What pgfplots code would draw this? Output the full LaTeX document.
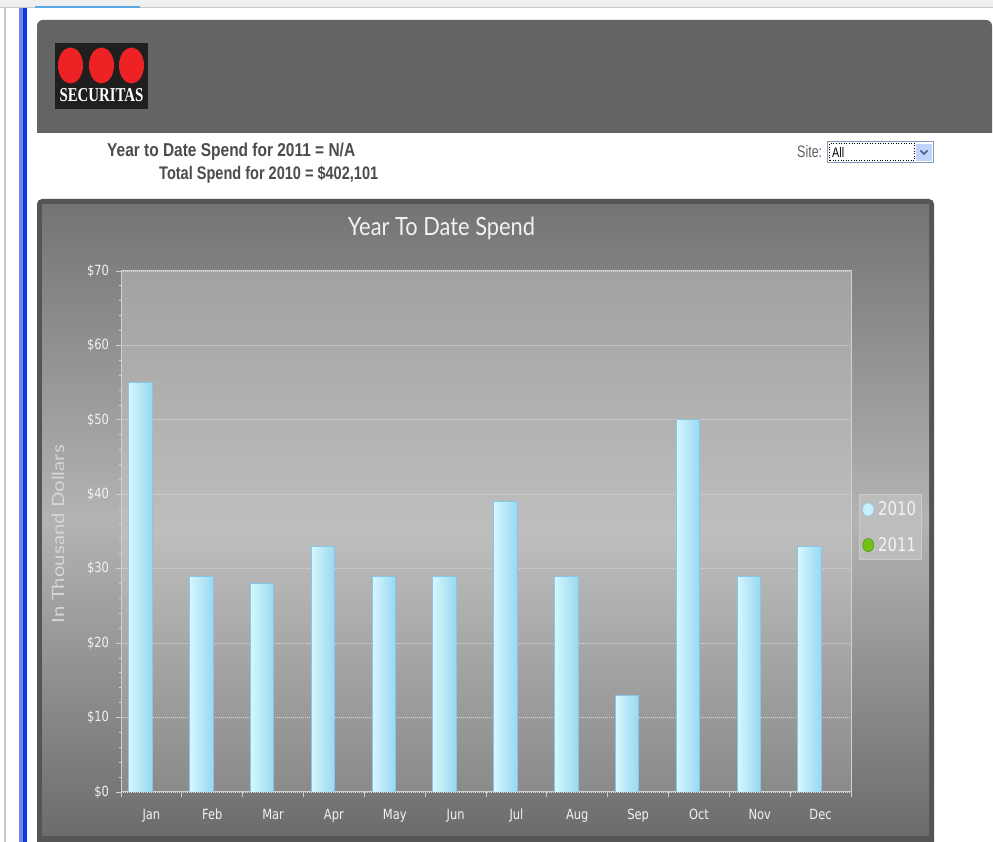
\documentclass[border=0pt]{standalone}
\usepackage{pgfplots}
\pgfplotsset{compat=1.18}
\usepackage{graphicx}
\usepackage{fontspec}
\setmainfont{Liberation Sans}
\newfontfamily\tickfont{DejaVu Sans}
\newfontfamily\titlefont{Lato}
\newfontfamily\seriffont{Liberation Serif}
\definecolor{hdr}{HTML}{646464}
\definecolor{pborder}{HTML}{555555}
\definecolor{ptop}{HTML}{747474}
\definecolor{pmid}{HTML}{B3B3B3}
\definecolor{pbot}{HTML}{6C6C6C}
\definecolor{atop}{HTML}{A2A2A2}
\definecolor{amid}{HTML}{BEBEBE}
\definecolor{abot}{HTML}{8A8A8A}
\definecolor{barL}{HTML}{D6F7FE}
\definecolor{barR}{HTML}{98D8F0}
\definecolor{barE}{HTML}{86C6E6}
\definecolor{gridc}{HTML}{D8D8D8}
\definecolor{axisc}{HTML}{D0D0D0}
\definecolor{logored}{HTML}{EE2224}
\definecolor{txtgray}{HTML}{4C4C4C}
\definecolor{legfill}{HTML}{BDBDBD}
\definecolor{legdraw}{HTML}{CACACA}
\definecolor{c2010}{HTML}{C9F0FD}
\definecolor{c2010e}{HTML}{9BD4EE}
\definecolor{c2011}{HTML}{72C216}
\definecolor{c2011e}{HTML}{4E9A0C}
\definecolor{blueA}{HTML}{7088E0}
\definecolor{blueB}{HTML}{0A3AE0}
\definecolor{chrome}{HTML}{EFEFEF}
\definecolor{chromeline}{HTML}{C8C8C8}
\definecolor{tabblue}{HTML}{5AA8E0}
\definecolor{ticktext}{HTML}{F2F2F2}
\definecolor{ylabc}{HTML}{D6D6D6}
\definecolor{selborder}{HTML}{7F9DB9}
\definecolor{btnfill}{HTML}{C1D3FB}
\definecolor{chev}{HTML}{4D6185}
\newcommand\tl[1]{\scalebox{0.82}[1]{#1}}

\begin{document}
\begin{tikzpicture}[x=1pt,y=1pt]
\useasboundingbox (0,0) rectangle (993,842);
\fill[white] (0,0) rectangle (993,842);
% browser chrome
\fill[chrome] (0,834) rectangle (993,842);
\draw[chromeline, line width=1pt] (0,834) -- (993,834);
\fill[tabblue] (35,833.5) rectangle (140,836);
\fill[chromeline] (4,0) rectangle (6,834);
\fill[blueA] (19,0) rectangle (23,834);
\fill[blueB] (23,0) rectangle (27,834);
% header band
\fill[hdr] (37,709) -- (37,816) arc[start angle=180,end angle=90,radius=6pt] -- (986,822) arc[start angle=90,end angle=0,radius=6pt] -- (992,709) -- cycle;
% logo
\fill[black!88] (55,733) rectangle (148,799);
\fill[logored] (70.5,776.5) ellipse (12.5pt and 18pt);
\fill[logored] (101.5,776.5) ellipse (12.5pt and 18pt);
\fill[logored] (131.5,776.5) ellipse (12.5pt and 18pt);
\node[white, font=\seriffont\bfseries\fontsize{18}{18}\selectfont, anchor=base, inner sep=0] at (101.5,740) {\resizebox{84pt}{13pt}{SECURITAS}};
% summary text
\node[anchor=base west, inner sep=0, text=txtgray, font=\bfseries\fontsize{18}{18}\selectfont] at (107,685) {\resizebox{248pt}{13.5pt}{Year to Date Spend for 2011 = N/A}};
\node[anchor=base west, inner sep=0, text=txtgray, font=\bfseries\fontsize{18}{18}\selectfont] at (159,662) {\resizebox{219pt}{13.5pt}{Total Spend for 2010 = \$402,101}};
% site selector
\node[anchor=base west, inner sep=0, text=black!62, font=\fontsize{15}{15}\selectfont] at (797,684) {\resizebox{25pt}{12pt}{Site:}};
\draw[draw=selborder, fill=white] (827.5,679.5) rectangle (933.5,700.5);
\draw[black, dotted, line width=0.6pt] (829.5,681.5) rectangle (914.5,698.5);
\node[anchor=base west, inner sep=0, font=\fontsize{13}{13}\selectfont] at (832,684.5) {\resizebox{12pt}{10pt}{All}};
\fill[btnfill] (916,681) rectangle (932,698);
\draw[chev, line width=1.6pt] (920.5,691.5) -- (924,688) -- (927.5,691.5);
% chart panel
\fill[pborder] (37,0) -- (37,638) arc[start angle=180,end angle=90,radius=5pt] -- (929,643) arc[start angle=90,end angle=0,radius=5pt] -- (934,0) -- cycle;
\shade[top color=ptop, bottom color=pbot, middle color=pmid] (42,6) rectangle (929,637);
% title
\node[text=ticktext, font=\titlefont\fontsize{24}{24}\selectfont, anchor=base, inner sep=0] at (441.5,606.3) {\resizebox{187pt}{18.5pt}{Year To Date Spend}};

\begin{axis}[
  at={(121pt,50pt)}, anchor=south west,
  scale only axis, width=730pt, height=521pt,
  xmin=-0.5, xmax=11.5, ymin=0, ymax=70,
  xtick={-0.5,0.5,...,11.5},
  xticklabels={\tl{Jan},\tl{Feb},\tl{Mar},\tl{Apr},\tl{May},\tl{Jun},\tl{Jul},\tl{Aug},\tl{Sep},\tl{Oct},\tl{Nov},\tl{Dec},{}},
  xticklabel style={xshift=30.42pt, yshift=-8pt},
  ytick={0,10,...,70},
  minor y tick num=4,
  yticklabel={\tl{\$\pgfmathprintnumber{\tick}}},
  yticklabel style={xshift=-3pt},
  /pgf/number format/assume math mode=true,
  xtick pos=bottom, ytick pos=left,
  tick align=outside,
  major tick length=5.5pt, minor tick length=2.5pt,
  tick style={draw=axisc, line width=0.9pt},
  ticklabel style={font=\tickfont\fontsize{14}{14}\selectfont, text=ticktext},
  ymajorgrids=true,
  grid style={draw=gridc, dash pattern=on 1pt off 1pt, line width=0.9pt},
  axis line style={draw=axisc, line width=1pt},
  axis background/.style={shade, top color=atop, bottom color=abot, middle color=amid},
  ylabel={\resizebox{178pt}{12.5pt}{In Thousand Dollars}},
  ylabel style={at={(axis description cs:-0.0863,0.495)}, anchor=center, text=ylabc, font=\titlefont\fontsize{17}{17}\selectfont},
  legend style={at={(axis description cs:1,0.508)}, anchor=west, xshift=8pt, fill=legfill, draw=legdraw, line width=0.8pt, text=ticktext, inner xsep=3pt, inner ysep=5pt, row sep=16pt, font=\tickfont\fontsize{18}{18}\selectfont,
    /tikz/every odd column/.append style={column sep=2pt}},
  legend cell align=left,
  mybar/.style={ybar, bar width=23.4pt, bar shift=-11pt, draw=barE, line width=0.8pt, left color=barL, right color=barR, forget plot},
]
% 2010 monthly spend (thousand dollars), one bar per plot so each bar gets its own gradient
\addplot[mybar] coordinates {(0,55)};
\addplot[mybar] coordinates {(1,29)};
\addplot[mybar] coordinates {(2,28)};
\addplot[mybar] coordinates {(3,33)};
\addplot[mybar] coordinates {(4,29)};
\addplot[mybar] coordinates {(5,29)};
\addplot[mybar] coordinates {(6,39)};
\addplot[mybar] coordinates {(7,29)};
\addplot[mybar] coordinates {(8,13)};
\addplot[mybar] coordinates {(9,50)};
\addplot[mybar] coordinates {(10,29)};
\addplot[mybar] coordinates {(11,33)};
\addlegendimage{legend image code/.code={\draw[draw=c2010e, fill=c2010, line width=0.6pt] (5.5pt,0pt) ellipse (5.5pt and 6.5pt);}}
\addlegendentry{\resizebox{38pt}{14pt}{2010}}
\addlegendimage{legend image code/.code={\draw[draw=c2011e, fill=c2011, line width=0.6pt] (5.5pt,0pt) ellipse (5.5pt and 6.5pt);}}
\addlegendentry{\resizebox{38pt}{14pt}{2011}}
\end{axis}
\end{tikzpicture}
\end{document}
